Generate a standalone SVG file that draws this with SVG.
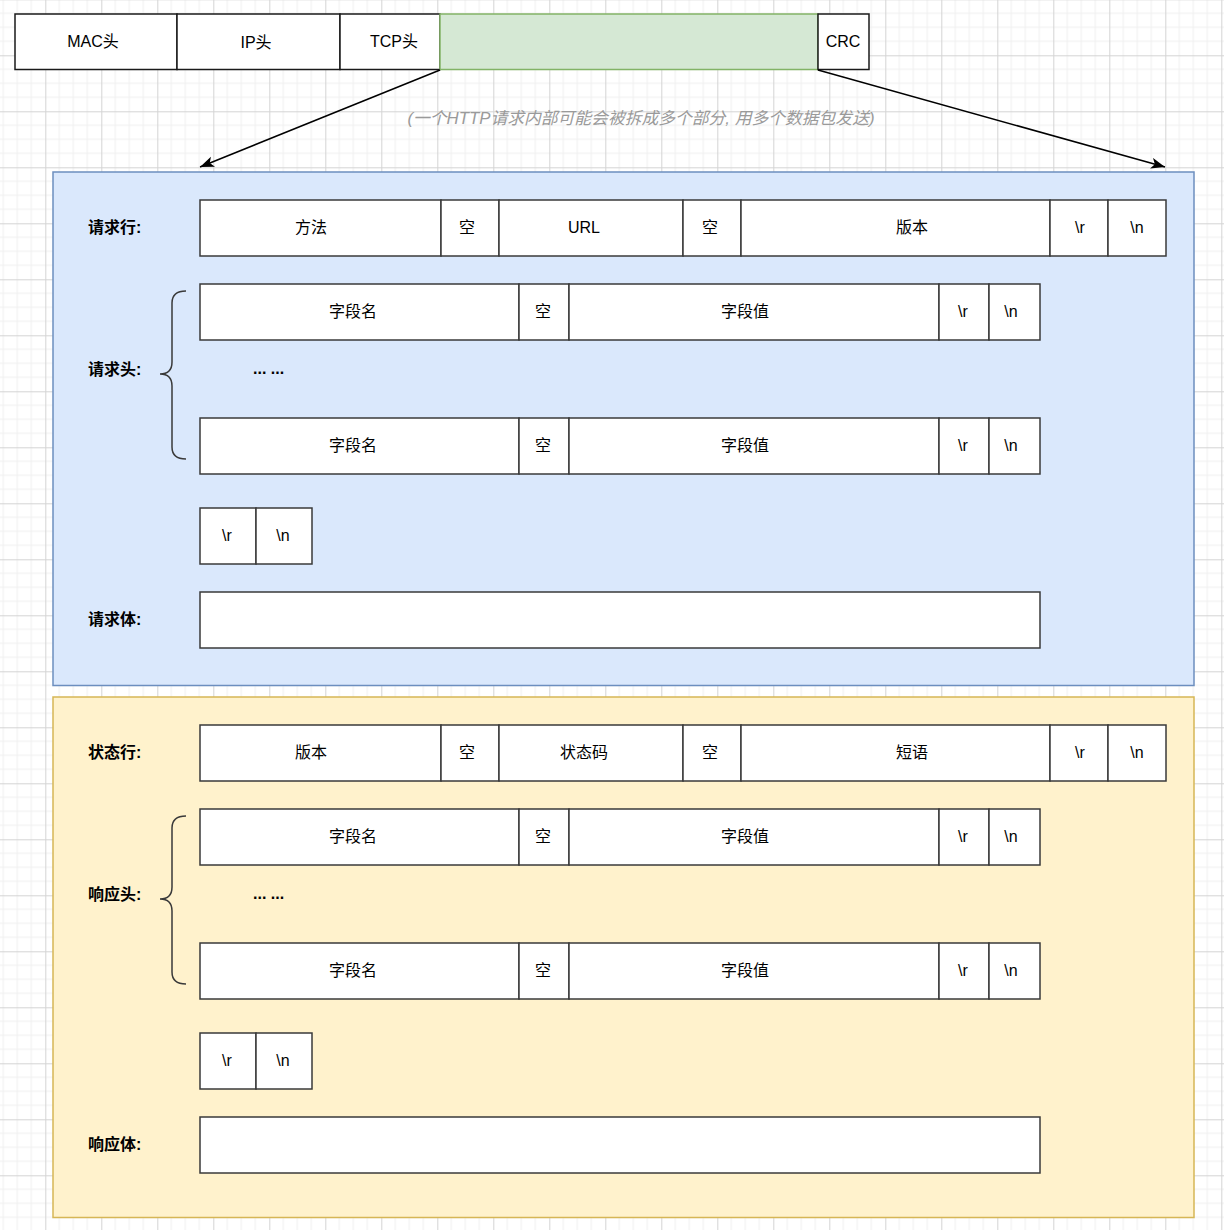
<svg xmlns="http://www.w3.org/2000/svg" width="1224" height="1230" viewBox="0 0 1224 1230">
<style>
text{font-family:"Liberation Sans","Noto Sans CJK SC",sans-serif;font-size:16px;fill:#000;text-anchor:middle;dominant-baseline:central}
.lbl{font-weight:bold;text-anchor:start}
.note{font-style:italic;fill:#9a9a9a;font-size:16.8px}
.cell{fill:#fff;stroke:#3a3a3a;stroke-width:1.5}
.top{fill:#fff;stroke:#1a1a1a;stroke-width:1.5}
.brace{fill:none;stroke:#3a3a3a;stroke-width:1.5}
.edge{fill:none;stroke:#000;stroke-width:1.5}
</style>
<defs>
<pattern id="grid" patternUnits="userSpaceOnUse" x="45.3" y="55.3" width="56" height="56">
<rect width="56" height="56" fill="#fff"/>
<path d="M14,0V56M28,0V56M42,0V56M0,14H56M0,28H56M0,42H56" stroke="#efefef" stroke-width="1"/>
<path d="M0.5,0V56M0,0.5H56" stroke="#d4d4d4" stroke-width="1"/>
</pattern>
<marker id="arr" markerUnits="userSpaceOnUse" markerWidth="16" markerHeight="12" refX="14" refY="6" orient="auto" viewBox="0 0 16 12">
<path d="M0,0.5 L14,6 L0,11.5 L3.5,6 Z" fill="#000"/>
</marker>
</defs>
<rect width="1224" height="1230" fill="url(#grid)"/>

<g id="packet">
<rect class="top" x="15" y="14" width="162" height="55.5"/>
<text x="93" y="41">MAC头</text>
<rect class="top" x="177" y="14" width="163" height="55.5"/>
<text x="256" y="42.5">IP头</text>
<rect class="top" x="340" y="14" width="100" height="55.5"/>
<text x="394" y="41">TCP头</text>
<rect x="440" y="14" width="378" height="55.5" fill="#d5e8d4" stroke="#82b366" stroke-width="1.5"/>
<rect class="top" x="818" y="14" width="51" height="55.5"/>
<text x="843" y="41">CRC</text>
</g>

<g id="connectors">
<line class="edge" x1="440" y1="70" x2="200" y2="167" marker-end="url(#arr)"/>
<line class="edge" x1="818" y1="70" x2="1165" y2="167" marker-end="url(#arr)"/>
</g>

<g id="note">
<text class="note" x="641" y="118">(一个HTTP请求内部可能会被拆成多个部分, 用多个数据包发送)</text>
</g>

<g id="request">
<rect x="53" y="172" width="1141" height="513.5" fill="#dae8fc" stroke="#6c8ebf" stroke-width="1.5"/>
<text class="lbl" x="88" y="227">请求行:</text>
<text class="lbl" x="88" y="369">请求头:</text>
<text class="lbl" x="88" y="619">请求体:</text>
<g id="req-line">
<rect class="cell" x="200" y="200" width="241" height="56"/><text x="311" y="227.5">方法</text>
<rect class="cell" x="441" y="200" width="58" height="56"/><text x="467" y="227.5">空</text>
<rect class="cell" x="499" y="200" width="184" height="56"/><text x="584" y="227.5">URL</text>
<rect class="cell" x="683" y="200" width="58" height="56"/><text x="710" y="227.5">空</text>
<rect class="cell" x="741" y="200" width="309" height="56"/><text x="912" y="227.5">版本</text>
<rect class="cell" x="1050" y="200" width="58" height="56"/><text x="1080" y="227.5">\r</text>
<rect class="cell" x="1108" y="200" width="58" height="56"/><text x="1137" y="227.5">\n</text>
</g>
<g id="req-header-1">
<rect class="cell" x="200" y="284" width="319" height="56"/><text x="353" y="311.5">字段名</text>
<rect class="cell" x="519" y="284" width="50" height="56"/><text x="543" y="311.5">空</text>
<rect class="cell" x="569" y="284" width="370" height="56"/><text x="745" y="311.5">字段值</text>
<rect class="cell" x="939" y="284" width="50" height="56"/><text x="963" y="311.5">\r</text>
<rect class="cell" x="989" y="284" width="51" height="56"/><text x="1011" y="311.5">\n</text>
</g>
<text class="lbl" x="253" y="368">... ...</text>
<g id="req-header-2">
<rect class="cell" x="200" y="418" width="319" height="56"/><text x="353" y="445.5">字段名</text>
<rect class="cell" x="519" y="418" width="50" height="56"/><text x="543" y="445.5">空</text>
<rect class="cell" x="569" y="418" width="370" height="56"/><text x="745" y="445.5">字段值</text>
<rect class="cell" x="939" y="418" width="50" height="56"/><text x="963" y="445.5">\r</text>
<rect class="cell" x="989" y="418" width="51" height="56"/><text x="1011" y="445.5">\n</text>
</g>
<path class="brace" d="M186,291 Q172,291 172,303 L172,362 Q172,374 160,374 Q172,374 172,386 L172,447 Q172,459 186,459"/>
<g id="req-crlf">
<rect class="cell" x="200" y="508" width="56" height="56"/><text x="227" y="535.5">\r</text>
<rect class="cell" x="256" y="508" width="56" height="56"/><text x="283" y="535.5">\n</text>
</g>
<g id="req-body">
<rect class="cell" x="200" y="592" width="840" height="56"/>
</g>
</g>

<g id="response">
<rect x="53" y="697" width="1141" height="520.5" fill="#fff2cc" stroke="#d6b656" stroke-width="1.5"/>
<text class="lbl" x="88" y="752">状态行:</text>
<text class="lbl" x="88" y="894">响应头:</text>
<text class="lbl" x="88" y="1144">响应体:</text>
<g id="status-line">
<rect class="cell" x="200" y="725" width="241" height="56"/><text x="311" y="752.5">版本</text>
<rect class="cell" x="441" y="725" width="58" height="56"/><text x="467" y="752.5">空</text>
<rect class="cell" x="499" y="725" width="184" height="56"/><text x="584" y="752.5">状态码</text>
<rect class="cell" x="683" y="725" width="58" height="56"/><text x="710" y="752.5">空</text>
<rect class="cell" x="741" y="725" width="309" height="56"/><text x="912" y="752.5">短语</text>
<rect class="cell" x="1050" y="725" width="58" height="56"/><text x="1080" y="752.5">\r</text>
<rect class="cell" x="1108" y="725" width="58" height="56"/><text x="1137" y="752.5">\n</text>
</g>
<g id="resp-header-1">
<rect class="cell" x="200" y="809" width="319" height="56"/><text x="353" y="836.5">字段名</text>
<rect class="cell" x="519" y="809" width="50" height="56"/><text x="543" y="836.5">空</text>
<rect class="cell" x="569" y="809" width="370" height="56"/><text x="745" y="836.5">字段值</text>
<rect class="cell" x="939" y="809" width="50" height="56"/><text x="963" y="836.5">\r</text>
<rect class="cell" x="989" y="809" width="51" height="56"/><text x="1011" y="836.5">\n</text>
</g>
<text class="lbl" x="253" y="893">... ...</text>
<g id="resp-header-2">
<rect class="cell" x="200" y="943" width="319" height="56"/><text x="353" y="970.5">字段名</text>
<rect class="cell" x="519" y="943" width="50" height="56"/><text x="543" y="970.5">空</text>
<rect class="cell" x="569" y="943" width="370" height="56"/><text x="745" y="970.5">字段值</text>
<rect class="cell" x="939" y="943" width="50" height="56"/><text x="963" y="970.5">\r</text>
<rect class="cell" x="989" y="943" width="51" height="56"/><text x="1011" y="970.5">\n</text>
</g>
<path class="brace" d="M186,816 Q172,816 172,828 L172,887 Q172,899 160,899 Q172,899 172,911 L172,972 Q172,984 186,984"/>
<g id="resp-crlf">
<rect class="cell" x="200" y="1033" width="56" height="56"/><text x="227" y="1060.5">\r</text>
<rect class="cell" x="256" y="1033" width="56" height="56"/><text x="283" y="1060.5">\n</text>
</g>
<g id="resp-body">
<rect class="cell" x="200" y="1117" width="840" height="56"/>
</g>
</g>
</svg>
